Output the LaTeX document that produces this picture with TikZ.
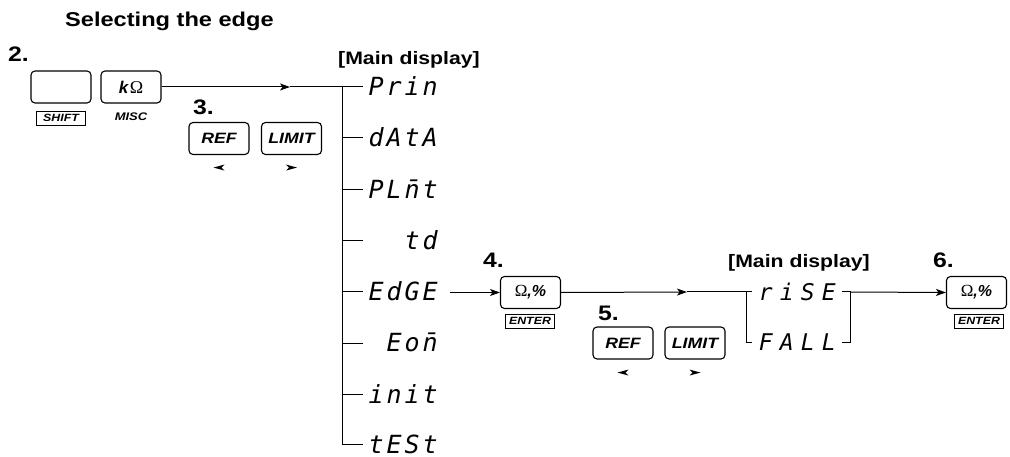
\documentclass[tikz,border=0pt]{standalone}
\usepackage{fontspec}
\usepackage{graphicx}
\setmainfont{Liberation Sans}
\newfontfamily\segfont{DejaVu Sans Mono}
\newfontfamily\serifont{Liberation Serif}
\usetikzlibrary{arrows.meta}
\newcommand\wide[1]{\scalebox{1.18}[1]{#1}}
\newcommand\sg[1]{\makebox[18pt][c]{#1}}
\newcommand\sgb[1]{\makebox[21pt][c]{#1}}
\newcommand\nbar{\rlap{¯}n}
\tikzset{
  key/.style={draw, line width=1.1pt, rounded corners=4pt, minimum width=60pt, minimum height=32pt, inner sep=0pt},
  lab/.style={draw, line width=0.8pt, minimum width=49pt, minimum height=14pt, inner sep=0pt,
    font=\bfseries\itshape\fontsize{10.5}{10.5}\selectfont},
  num/.style={anchor=base west, inner sep=0pt, font=\bfseries\fontsize{21}{21}\selectfont},
  head/.style={anchor=base west, inner sep=0pt, font=\bfseries\fontsize{18}{18}\selectfont},
  keytxt/.style={font=\bfseries\itshape\fontsize{15}{15}\selectfont},
  seg/.style={anchor=west, inner sep=0pt, text height=18pt, text depth=0pt,
    font=\segfont\itshape\fontsize{25}{25}\selectfont},
  segb/.style={anchor=west, inner sep=0pt, text height=17pt, text depth=0pt,
    font=\segfont\itshape\fontsize{23}{23}\selectfont},
  conn/.style={line width=1pt},
  arr/.style={conn, -{Stealth[length=10pt, width=7pt, inset=2.5pt]}}
}
\begin{document}
\begin{tikzpicture}[x=1pt, y=-1pt]
\useasboundingbox (0,0) rectangle (1010,457);

% title
\node[anchor=base west, inner sep=0pt, font=\bfseries\fontsize{20}{20}\selectfont] (title) at (65,27) {\wide{Selecting the edge}};

% step 2
\node[num] (n2) at (8,62) {\wide{2.}};
\node[key] (shift) at (61,87) {};
\node[key] (kohm) at (131,87) {{\bfseries\itshape\fontsize{17}{17}\selectfont k}\,{\serifont\fontsize{18}{18}\selectfont Ω}};
\node[lab] (shiftlab) at (61,118) {\wide{SHIFT}};
\node[inner sep=0pt, font=\bfseries\itshape\fontsize{11}{11}\selectfont] (misc) at (131,117) {\wide{MISC}};

% step 3
\node[num] (n3) at (193,115) {\wide{3.}};
\node[key, keytxt] (ref1) at (219,138.5) {\wide{REF}};
\node[key, keytxt] (lim1) at (291.5,138.5) {\wide{LIMIT}};
\fill ([xshift=-5.5pt]ref1.south) ++(0,12.5) -- ++(11,-3) -- ++(-3,3) -- ++(3,3) -- cycle;
\fill ([xshift=5.5pt]lim1.south) ++(0,12.5) -- ++(-11,-3) -- ++(3,3) -- ++(-3,3) -- cycle;

% first main display
\node[head] (md1) at (338,65) {\wide{[Main display]}};
\node[seg] (prin) at (367,87) {\sg{P}\sg{r}\sg{i}\sg{n}};
\node[seg] (data) at (367,138) {\sg{d}\sg{A}\sg{t}\sg{A}};
\node[seg] (plmt) at (367,190) {\sg{P}\sg{L}\sg{\nbar}\sg{t}};
\node[seg] (td)   at (367,241) {\sg{}\sg{}\sg{t}\sg{d}};
\node[seg] (edge) at (367,292) {\sg{E}\sg{d}\sg{G}\sg{E}};
\node[seg] (eom)  at (367,343) {\sg{}\sg{E}\sg{o}\sg{\nbar}};
\node[seg] (init) at (367,394) {\sg{i}\sg{n}\sg{i}\sg{t}};
\node[seg] (test) at (367,444) {\sg{t}\sg{E}\sg{S}\sg{t}};

\coordinate (T) at (342,87);
\coordinate (m1) at (290,87);
\draw[arr] (kohm.east) -- (m1);
\draw[conn, shorten >=4pt] (m1) -- (prin.west);
\draw[conn, shorten >=4pt] (T) |- (test.west);
\foreach \n in {data,plmt,td,edge,eom,init}
  \draw[conn, shorten >=4pt] (\n.west -| T) -- (\n.west);

% step 4
\node[num] (n4) at (483,268) {\wide{4.}};
\node[key] (k4) at (530.5,292.5) {{\serifont\fontsize{17}{17}\selectfont Ω}{\bfseries\itshape\fontsize{16}{16}\selectfont ,\%}};
\node[lab] (ent4) at (530,321) {\wide{ENTER}};
\draw[arr, shorten <=11pt] (edge.east |- k4.west) -- (k4.west);

% step 5
\node[num] (n5) at (598,320) {\wide{5.}};
\node[key, keytxt] (ref2) at (623,343) {\wide{REF}};
\node[key, keytxt] (lim2) at (695,343) {\wide{LIMIT}};
\fill ([xshift=-5.5pt]ref2.south) ++(0,13) -- ++(11,-3) -- ++(-3,3) -- ++(3,3) -- cycle;
\fill ([xshift=5.5pt]lim2.south) ++(0,13) -- ++(-11,-3) -- ++(3,3) -- ++(-3,3) -- cycle;

% second main display
\node[head] (md2) at (728,268) {\wide{[Main display]}};
\node[segb] (rise) at (755,292) {\sgb{r}\sgb{i}\sgb{S}\sgb{E}};
\node[segb] (fall) at (755,342) {\sgb{F}\sgb{A}\sgb{L}\sgb{L}};
\coordinate (m2) at (687,292);
\coordinate (L) at (746,292);
\coordinate (R) at (850,292);
\draw[arr] (k4.east) -- (m2);
\draw[conn, shorten >=3pt] (m2) -- (rise.west);
\draw[conn, shorten >=3pt] (L) |- (fall.west);
\draw[conn] ([xshift=3pt]rise.east) -- (R) |- ([xshift=3pt]fall.east);

% step 6
\node[num] (n6) at (933,268) {\wide{6.}};
\node[key] (k6) at (976.5,292.5) {{\serifont\fontsize{17}{17}\selectfont Ω}{\bfseries\itshape\fontsize{16}{16}\selectfont ,\%}};
\node[lab] (ent6) at (979,321) {\wide{ENTER}};
\draw[arr] (R) -- (k6.west);
\end{tikzpicture}
\end{document}
